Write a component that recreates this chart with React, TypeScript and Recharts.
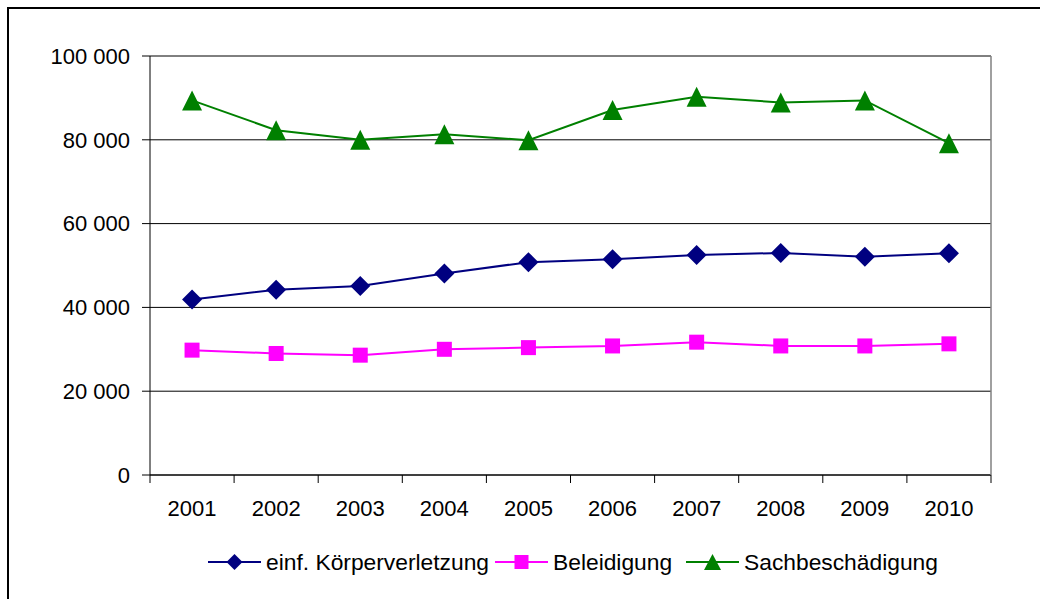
import React from "react";
import { LineChart, Line, XAxis, YAxis, CartesianGrid } from "recharts";

const years = ["2001", "2002", "2003", "2004", "2005", "2006", "2007", "2008", "2009", "2010"];
const koerperverletzung = [41900, 44200, 45100, 48100, 50800, 51500, 52500, 53000, 52100, 52900];
const beleidigung = [29800, 29000, 28600, 30000, 30400, 30800, 31700, 30800, 30800, 31300];
const sachbeschaedigung = [89400, 82300, 80000, 81300, 79900, 87100, 90300, 88900, 89400, 79200];
const yTicks = [0, 20000, 40000, 60000, 80000, 100000];

const seriesNames = ["einf. Körperverletzung", "Beleidigung", "Sachbeschädigung"];
const NAVY = "#000080";
const MAGENTA = "#FF00FF";
const GREEN = "#008000";

const data = years.map((y, i) => ({
  year: y,
  kv: koerperverletzung[i],
  bel: beleidigung[i],
  sach: sachbeschaedigung[i],
}));

const FONT = "'Liberation Sans', Arial, Helvetica, sans-serif";
const X_TICK_SIZE = 8;
const X_TICK_MARGIN = 17;
const LEGEND_LEFTS = [208, 495, 686];

const fmt = (v: number) => String(v).replace(/\B(?=(\d{3})+(?!\d))/g, " ");

const diamondPath = (cx: number, cy: number, r: number) =>
  `M${cx},${cy - r}L${cx + r},${cy}L${cx},${cy + r}L${cx - r},${cy}Z`;
const trianglePath = (cx: number, cy: number, w: number, h: number) =>
  `M${cx},${cy - h / 2}L${cx + w / 2},${cy + h / 2}L${cx - w / 2},${cy + h / 2}Z`;

const DiamondDot = (props: any) => {
  const { cx, cy, index } = props;
  if (cx == null || cy == null) return <g key={`d${index}`} />;
  return <path key={`d${index}`} d={diamondPath(cx, cy, 10)} fill={NAVY} />;
};
const SquareDot = (props: any) => {
  const { cx, cy, index } = props;
  if (cx == null || cy == null) return <g key={`s${index}`} />;
  return <rect key={`s${index}`} x={cx - 7.5} y={cy - 7.5} width={15} height={15} fill={MAGENTA} />;
};
const TriangleDot = (props: any) => {
  const { cx, cy, index } = props;
  if (cx == null || cy == null) return <g key={`t${index}`} />;
  return <path key={`t${index}`} d={trianglePath(cx, cy, 20, 20)} fill={GREEN} />;
};

// Category tick: label at band centre, tick mark at band boundaries (Excel style)
const CategoryTick = (props: any) => {
  const { x, y, payload, index, visibleTicksCount, width } = props;
  const half =
    payload && typeof payload.offset === "number" && payload.offset > 0
      ? payload.offset
      : width / visibleTicksCount / 2;
  const axisY = y - X_TICK_SIZE - X_TICK_MARGIN;
  const isLast = index === visibleTicksCount - 1;
  return (
    <g>
      <line x1={x - half} x2={x - half} y1={axisY} y2={axisY + X_TICK_SIZE} stroke="#000" strokeWidth={1} />
      {isLast && (
        <line x1={x + half} x2={x + half} y1={axisY} y2={axisY + X_TICK_SIZE} stroke="#000" strokeWidth={1} />
      )}
      <text x={x} y={y} dy="0.71em" textAnchor="middle" fill="#000" fontSize={22} fontFamily={FONT}>
        {payload.value}
      </text>
    </g>
  );
};

const LegendIcon = ({ kind }: { kind: number }) => {
  const color = kind === 0 ? NAVY : kind === 1 ? MAGENTA : GREEN;
  return (
    <svg width={53} height={24} style={{ display: "block" }}>
      <line x1={0} y1={12} x2={53} y2={12} stroke={color} strokeWidth={2} />
      {kind === 0 && <path d={diamondPath(26.5, 12, 8)} fill={color} />}
      {kind === 1 && <rect x={19.5} y={5} width={14} height={14} fill={color} />}
      {kind === 2 && <path d={trianglePath(26.5, 12, 17, 16)} fill={color} />}
    </svg>
  );
};

export default function App() {
  return (
    <div
      style={{
        position: "absolute",
        left: 0,
        top: 0,
        width: 1040,
        height: 599,
        overflow: "hidden",
        background: "#fff",
        fontFamily: FONT,
      }}
    >
      <div
        style={{
          position: "absolute",
          left: 7,
          top: 7,
          width: 1200,
          height: 800,
          border: "2px solid #000",
          boxSizing: "border-box",
        }}
      />
      <div style={{ position: "absolute", left: 0, top: 0 }}>
        <LineChart
          width={1040}
          height={599}
          data={data}
          margin={{ top: 55, right: 48, left: 0, bottom: 64 }}
        >
          <CartesianGrid vertical={false} stroke="#000" strokeWidth={1} />
          <XAxis
            dataKey="year"
            scale="band"
            tickLine={false}
            axisLine={{ stroke: "#000", strokeWidth: 1 }}
            tickSize={X_TICK_SIZE}
            tickMargin={X_TICK_MARGIN}
            height={60}
            interval={0}
            tick={<CategoryTick />}
          />
          <XAxis
            xAxisId="top"
            orientation="top"
            dataKey="year"
            tick={false}
            tickLine={false}
            axisLine={{ stroke: "#808080", strokeWidth: 1 }}
            height={1}
          />
          <YAxis
            domain={[0, 100000]}
            ticks={yTicks}
            tickFormatter={fmt}
            width={150}
            tickSize={8}
            tickMargin={12}
            interval={0}
            tickLine={{ stroke: "#000", strokeWidth: 1 }}
            axisLine={{ stroke: "#000", strokeWidth: 1 }}
            tick={{ fill: "#000", fontSize: 22, fontFamily: FONT }}
          />
          <YAxis
            yAxisId="right"
            orientation="right"
            domain={[0, 100000]}
            tick={false}
            tickLine={false}
            axisLine={{ stroke: "#808080", strokeWidth: 1.5 }}
            width={1}
          />
          <Line
            dataKey="kv"
            name={seriesNames[0]}
            stroke={NAVY}
            strokeWidth={2}
            dot={DiamondDot}
            activeDot={false}
            isAnimationActive={false}
          />
          <Line
            dataKey="bel"
            name={seriesNames[1]}
            stroke={MAGENTA}
            strokeWidth={2}
            dot={SquareDot}
            activeDot={false}
            isAnimationActive={false}
          />
          <Line
            dataKey="sach"
            name={seriesNames[2]}
            stroke={GREEN}
            strokeWidth={2}
            dot={TriangleDot}
            activeDot={false}
            isAnimationActive={false}
          />
        </LineChart>
      </div>
      {seriesNames.map((n, i) => (
        <div
          key={n}
          style={{
            position: "absolute",
            left: LEGEND_LEFTS[i],
            top: 550,
            display: "flex",
            alignItems: "center",
            fontSize: 22.8,
            color: "#000",
            whiteSpace: "nowrap",
          }}
        >
          <LegendIcon kind={i} />
          <span style={{ marginLeft: 5, lineHeight: "24px" }}>{n}</span>
        </div>
      ))}
    </div>
  );
}
